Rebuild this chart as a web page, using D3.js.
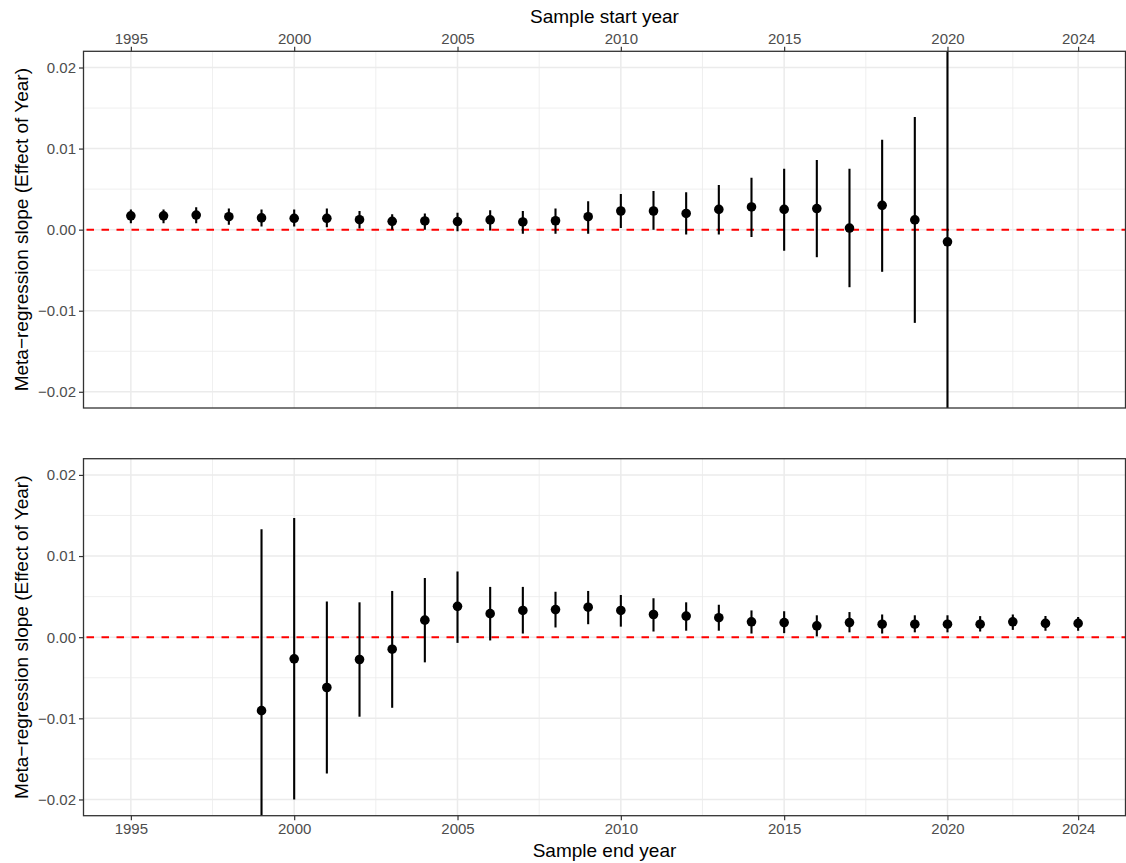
<!DOCTYPE html>
<html>
<head>
<meta charset="utf-8">
<script src="https://cdn.jsdelivr.net/npm/d3@7"></script>
<style>
  html, body { margin: 0; padding: 0; background: #fff; }
  svg { display: block; font-family: "Liberation Sans", Arial, Helvetica, sans-serif; }
</style>
</head>
<body>
<svg id="chart" width="1126" height="863"></svg>
<script>
// Rolling meta-regression: slope on year with 95% intervals
const startYears = [1995,1996,1997,1998,1999,2000,2001,2002,2003,2004,2005,2006,2007,2008,2009,2010,2011,2012,2013,2014,2015,2016,2017,2018,2019,2020];
const startEst   = [0.0017,0.0017,0.0018,0.0016,0.00145,0.0014,0.0014,0.00123,0.00103,0.00107,0.0010,0.0012,0.00095,0.0011,0.0016,0.0023,0.0023,0.0020,0.0025,0.0028,0.0025,0.0026,0.0002,0.0030,0.0012,-0.0015];
const startLo    = [0.0008,0.0008,0.0008,0.0006,0.0004,0.0004,0.0003,0.00015,0.0000,0.0000,-0.0002,-0.0001,-0.0005,-0.0005,-0.0005,0.0002,0.0000,-0.0006,-0.0006,-0.0009,-0.0026,-0.0034,-0.0071,-0.0052,-0.0115,-0.0340];
const startHi    = [0.0025,0.0025,0.00275,0.0026,0.0025,0.0025,0.0026,0.0023,0.0019,0.0020,0.0021,0.0024,0.0023,0.0026,0.0035,0.0044,0.00476,0.0046,0.0055,0.0064,0.0075,0.0086,0.0075,0.0111,0.0139,0.0310];

const endYears = [1999,2000,2001,2002,2003,2004,2005,2006,2007,2008,2009,2010,2011,2012,2013,2014,2015,2016,2017,2018,2019,2020,2021,2022,2023,2024];
const endEst   = [-0.00905,-0.00267,-0.0062,-0.00275,-0.00148,0.0021,0.0038,0.0029,0.0033,0.0034,0.0037,0.0033,0.0028,0.0026,0.0024,0.0019,0.0018,0.0014,0.0018,0.0016,0.0016,0.0016,0.0016,0.0019,0.0017,0.0017];
const endLo    = [-0.0314,-0.0200,-0.0168,-0.0098,-0.0087,-0.0031,-0.0007,-0.0004,0.00045,0.0012,0.0016,0.0013,0.0007,0.0008,0.0008,0.00045,0.0005,0.0001,0.0006,0.00045,0.0006,0.0006,0.0007,0.0009,0.0008,0.0008];
const endHi    = [0.0133,0.0147,0.0044,0.0043,0.0057,0.0073,0.0081,0.0062,0.0062,0.0056,0.0057,0.0052,0.0048,0.0043,0.0040,0.0033,0.0032,0.0027,0.0031,0.0028,0.0027,0.0027,0.0026,0.0028,0.0026,0.0025];

const xBreaks = [1995,2000,2005,2010,2015,2020,2024];
const xMinor  = [1997.5,2002.5,2007.5,2012.5,2017.5,2022];
const yBreaks = [-0.02,-0.01,0,0.01,0.02];
const yMinor  = [-0.015,-0.005,0.005,0.015];
const yLimits = [-0.02, 0.02];
const xTitleTop = "Sample start year";
const xTitleBottom = "Sample end year";
const yTitle = "Meta\u2212regression slope (Effect of Year)";

const svg = d3.select("#chart");
const left = 83.5, right = 1125.5;
const panels = [
  { id: "start", top: 51.3, bottom: 408, years: startYears, est: startEst, lo: startLo, hi: startHi, axis: "top", title: xTitleTop },
  { id: "end", top: 458.7, bottom: 815.7, years: endYears, est: endEst, lo: endLo, hi: endHi, axis: "bottom", title: xTitleBottom }
];

// x spans all years with 5% padding on each side
const xAll = d3.extent(startYears.concat(endYears));
const xPad = (xAll[1] - xAll[0]) * 0.05;
const x = d3.scaleLinear().domain([xAll[0] - xPad, xAll[1] + xPad]).range([left, right]);
const yPad = (yLimits[1] - yLimits[0]) * 0.05;

const gridCol = "#EBEBEB";
const tickFont = 15;
const titleFont = 19;

panels.forEach(p => {
  const y = d3.scaleLinear().domain([yLimits[0] - yPad, yLimits[1] + yPad]).range([p.bottom, p.top]);
  const g = svg.append("g").attr("class", "panel-" + p.id);

  g.append("clipPath").attr("id", "clip-" + p.id)
    .append("rect").attr("x", left).attr("y", p.top)
    .attr("width", right - left).attr("height", p.bottom - p.top);

  // grid
  const grid = g.append("g");
  grid.selectAll(".vminor").data(xMinor).join("line")
    .attr("x1", d => x(d)).attr("x2", d => x(d)).attr("y1", p.top).attr("y2", p.bottom)
    .attr("stroke", gridCol).attr("stroke-width", 0.8);
  grid.selectAll(".hminor").data(yMinor).join("line")
    .attr("x1", left).attr("x2", right).attr("y1", d => y(d)).attr("y2", d => y(d))
    .attr("stroke", gridCol).attr("stroke-width", 0.8);
  grid.selectAll(".vmajor").data(xBreaks).join("line")
    .attr("x1", d => x(d)).attr("x2", d => x(d)).attr("y1", p.top).attr("y2", p.bottom)
    .attr("stroke", gridCol).attr("stroke-width", 1.5);
  grid.selectAll(".hmajor").data(yBreaks).join("line")
    .attr("x1", left).attr("x2", right).attr("y1", d => y(d)).attr("y2", d => y(d))
    .attr("stroke", gridCol).attr("stroke-width", 1.5);

  const body = g.append("g").attr("clip-path", "url(#clip-" + p.id + ")");

  // zero reference line
  body.append("line")
    .attr("x1", left).attr("x2", right).attr("y1", y(0)).attr("y2", y(0))
    .attr("stroke", "#FF0000").attr("stroke-width", 2)
    .attr("stroke-dasharray", "7.5,7.5").attr("stroke-dashoffset", -3);

  const rows = p.years.map((yr, i) => ({ yr, est: p.est[i], lo: p.lo[i], hi: p.hi[i] }));

  body.selectAll(".bar").data(rows).join("line")
    .attr("x1", d => x(d.yr)).attr("x2", d => x(d.yr))
    .attr("y1", d => y(d.lo)).attr("y2", d => y(d.hi))
    .attr("stroke", "#000").attr("stroke-width", 2.1);

  body.selectAll(".pt").data(rows).join("circle")
    .attr("cx", d => x(d.yr)).attr("cy", d => y(d.est)).attr("r", 4.8)
    .attr("fill", "#000");

  // border
  g.append("rect").attr("x", left).attr("y", p.top)
    .attr("width", right - left).attr("height", p.bottom - p.top)
    .attr("fill", "none").attr("stroke", "#333333").attr("stroke-width", 1.3);

  // y axis
  const yAxis = g.append("g").attr("transform", `translate(${left},0)`)
    .call(d3.axisLeft(y).tickValues(yBreaks).tickFormat(d3.format(".2f")).tickSize(4.5).tickPadding(3));
  yAxis.select(".domain").remove();
  yAxis.selectAll(".tick line").attr("stroke", "#333333").attr("stroke-width", 1.2);
  yAxis.selectAll(".tick text").attr("fill", "#4D4D4D").attr("font-size", tickFont)
    .attr("font-family", "Liberation Sans, Arial, sans-serif");

  // x axis
  const xAxisGen = (p.axis === "top" ? d3.axisTop(x) : d3.axisBottom(x))
    .tickValues(xBreaks).tickFormat(d3.format("d")).tickSize(4.5).tickPadding(3);
  const xAxis = g.append("g")
    .attr("transform", `translate(0,${p.axis === "top" ? p.top : p.bottom})`)
    .call(xAxisGen);
  xAxis.select(".domain").remove();
  xAxis.selectAll(".tick line").attr("stroke", "#333333").attr("stroke-width", 1.2);
  xAxis.selectAll(".tick text").attr("fill", "#4D4D4D").attr("font-size", tickFont)
    .attr("font-family", "Liberation Sans, Arial, sans-serif");

  // titles
  svg.append("text")
    .attr("x", (left + right) / 2)
    .attr("y", p.axis === "top" ? 23 : 857)
    .attr("text-anchor", "middle").attr("font-size", titleFont).attr("fill", "#000")
    .text(p.title);

  svg.append("text")
    .attr("transform", `translate(27.5,${(p.top + p.bottom) / 2}) rotate(-90)`)
    .attr("text-anchor", "middle").attr("font-size", titleFont).attr("fill", "#000")
    .text(yTitle);
});
</script>
</body>
</html>
